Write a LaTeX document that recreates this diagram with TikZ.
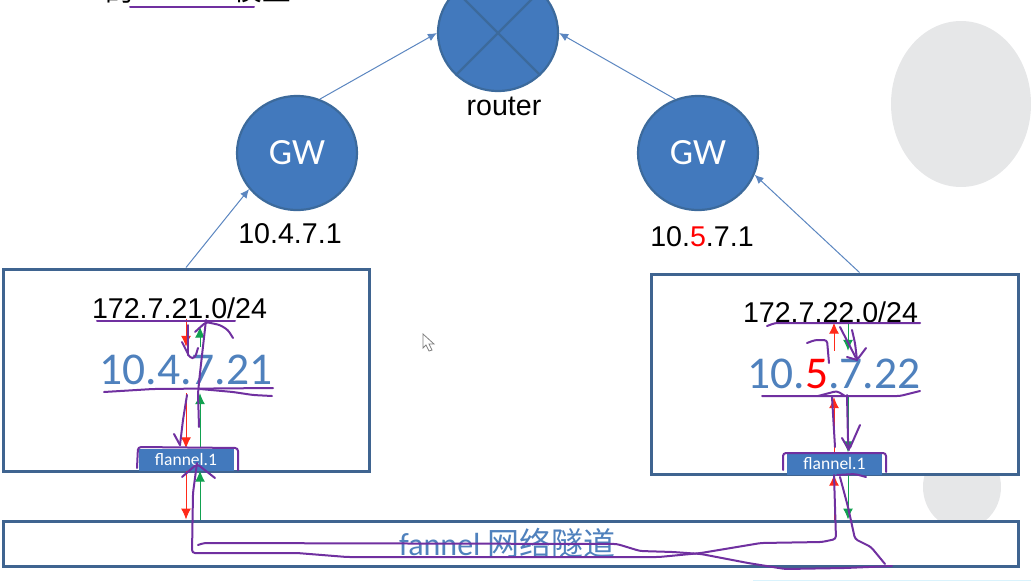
\documentclass[tikz,border=0pt]{standalone}
\usepackage{fontspec}
\usepackage{xcolor}
\usepackage{tikz}
\usetikzlibrary{shapes.geometric,arrows.meta}
\setmainfont{Liberation Sans}
\newfontfamily\carlito{Carlito}
\newfontfamily\cjk{Noto Sans CJK SC}
\definecolor{nodeblue}{HTML}{4279BD}
\definecolor{edgeblue}{HTML}{3C6A9C}
\definecolor{boxblue}{HTML}{3F6490}
\definecolor{textblue}{HTML}{4F81BD}
\definecolor{arrowblue}{HTML}{5B86C0}
\definecolor{ink}{HTML}{7030A0}
\definecolor{pale}{HTML}{E6E7E8}
\definecolor{tipred}{HTML}{FF2A1A}
\definecolor{tipgreen}{HTML}{12A150}
\tikzset{
  roundnode/.style={ellipse,draw=edgeblue,fill=nodeblue,line width=2.2pt,inner sep=0pt,
    minimum width=120pt,minimum height=114pt,text=white,font=\carlito\fontsize{37}{37}\selectfont},
  hostbox/.style={rectangle,draw=boxblue,fill=white,line width=3pt,inner sep=0pt},
  subnetlabel/.style={inner sep=0pt,font=\fontsize{28.6}{28.6}\selectfont},
  hostlabel/.style={inner sep=0pt,minimum height=46pt,text=textblue,font=\carlito\fontsize{45.5}{45.5}\selectfont},
  flannelbox/.style={rectangle,fill=nodeblue,text=white,inner sep=0pt,minimum width=95pt,minimum height=22pt,
    font=\carlito\fontsize{17.5}{17.5}\selectfont},
  bluearrow/.style={draw=arrowblue,line width=1pt,-{Latex[length=9pt,width=8pt]}},
  redarrow/.style={draw=tipred,line width=1pt,-{Latex[length=11pt,width=10pt]}},
  greenarrow/.style={draw=tipgreen,line width=1pt,-{Latex[length=11pt,width=10pt]}},
  inkline/.style={draw=ink,line width=2pt,line cap=round,line join=round,rounded corners=3pt},
}
\begin{document}
\begin{tikzpicture}[x=1pt,y=-1pt]
  \useasboundingbox (0,0) rectangle (1031,581);
  % grey shapes behind
  \fill[pale] (961,104) ellipse (70 and 83);
  \fill[pale] (962,487) ellipse (39 and 42);
  \draw[color=cyan!15,line width=1pt] (753,580) -- (1031,580);

  % title, cut off at the top
  \node[subnetlabel] (titlede) at (120,-10) {\cjk 的};
  \node[subnetlabel] (titlemodel) at (262,-10) {\cjk 模型};

  % round nodes
  \node[roundnode,minimum height=116pt] (router) at (498,33) {};
  \draw[draw=edgeblue,line width=2.4pt] (router.45) -- (router.225);
  \draw[draw=edgeblue,line width=2.4pt] (router.135) -- (router.315);
  \node[roundnode] (gwl) at (297,153) {GW};
  \node[roundnode] (gwr) at (698,153) {GW};
  \node[subnetlabel] (routerlabel) at (504,106) {router};
  \node[subnetlabel] (gwlabell) at (290,234) {10.4.7.1};
  \node[subnetlabel] (gwlabelr) at (702,237) {10.{\color{red}5}.7.1};

  % boxes
  \node[hostbox,minimum width=366pt,minimum height=202pt] (boxl) at (186,370) {};
  \node[hostbox,minimum width=367pt,minimum height=200pt] (boxr) at (834.5,374) {};
  \node[hostbox,minimum width=1015pt,minimum height=45pt] (tunnel) at (510.5,543.5) {};
  \node[inner sep=0pt,text=textblue,font=\fontsize{32}{32}\selectfont] (tunnellabel) at (507.5,543) {\carlito fannel \cjk 网络隧道};

  \node[subnetlabel] (subnetl) at (179.5,308) {172.7.21.0/24};
  \node[subnetlabel] (subnetr) at (830.5,312) {172.7.22.0/24};
  \node[hostlabel] (hostl) at (186,370) {10.4.7.21};
  \node[hostlabel] (hostr) at (834,374) {10.{\color{red}5}.7.22};
  \node[flannelbox] (flannell) at (186,459.5) {flannel.1};
  \node[flannelbox] (flannelr) at (834.5,463.5) {flannel.1};

  % blue arrows
  \draw[bluearrow] (gwl.67) -- (router.180);
  \draw[bluearrow] (gwr.113) -- (router.0);
  \draw[bluearrow] (boxl.north) -- (gwl.217);
  \draw[bluearrow] ([xshift=25pt]boxr.north) -- (gwr.339);

  % red and green arrows
  \coordinate (redl) at (186,0);
  \coordinate (greenl) at (200,0);
  \coordinate (redr) at (834,0);
  \coordinate (greenr) at (848,0);
  \draw[redarrow] (redl |- subnetl.south) -- (redl |- hostl.north);
  \draw[greenarrow,shorten >=8pt] (greenl |- hostl.north) -- (greenl |- subnetl.south);
  \draw[redarrow] (redl |- hostl.south) -- (redl |- flannell.north);
  \draw[greenarrow] (greenl |- flannell.north) -- (greenl |- hostl.south);
  \draw[redarrow] (redl |- flannell.south) -- (redl |- tunnel.north);
  \draw[greenarrow] (greenl |- tunnel.north) -- (greenl |- flannell.south);
  \draw[redarrow] (redr |- hostr.north) -- (redr |- subnetr.south);
  \draw[greenarrow] (greenr |- subnetr.south) -- (greenr |- hostr.north);
  \draw[redarrow] (redr |- flannelr.north) -- (redr |- hostr.south);
  \draw[greenarrow] (greenr |- hostr.south) -- (greenr |- flannelr.north);
  \draw[redarrow] (redr |- tunnel.north) -- (redr |- flannelr.south);
  \draw[greenarrow] (greenr |- flannelr.south) -- (greenr |- tunnel.north);

  % mouse pointer
  \draw[gray,fill=white,line width=0.8pt] (423,334) -- (423,348) -- (426,345) -- (429,351) -- (432,350) -- (429,344) -- (434,344) -- cycle;

  % purple pen strokes
  \draw[inkline] (130,6.5) -- (254,6.5);
  % left box
  \draw[inkline] (97,321) -- (235,321);
  \draw[inkline] (104,392) -- (153,389) -- (273,388);
  \draw[inkline] (200,389) -- (233,392) -- (253,395) -- (272,396);
  \draw[inkline] (188,325) -- (188,355);
  \draw[inkline] (182,342) -- (190,358) -- (195,358) -- (198,348);
  \draw[inkline] (199,427) -- (198,393) -- (200,373) -- (206,320);
  \draw[inkline] (195,332) -- (206,322) -- (220,325) -- (228,330) -- (233,338);
  \draw[inkline] (187,395) -- (183,420) -- (180,445);
  \draw[inkline] (174,434) -- (180,445);
  \draw[inkline] (137,468) -- (138,447) -- (238,448) -- (238,470);
  \draw[inkline] (182,477) -- (197,464) -- (215,478);
  % right box
  \draw[inkline] (767,326) -- (775,323) -- (920,323);
  \draw[inkline] (762,396) -- (900,396) -- (920,391);
  \draw[inkline] (807,343) -- (815,340) -- (827,340) -- (829,363);
  \draw[inkline] (840,327) -- (857,360) -- (866,348);
  \draw[inkline] (847,357) -- (857,360);
  \draw[inkline] (852,330) -- (855,343) -- (857,360);
  \draw[inkline] (818,396) -- (837,391) -- (845,396);
  \draw[inkline] (832,397) -- (835,447);
  \draw[inkline] (847,395) -- (848,440) -- (849,450) -- (860,425);
  \draw[inkline] (842,438) -- (849,450);
  \draw[inkline] (783,470) -- (783,453) -- (886,453) -- (886,472);
  \draw[inkline] (837,475) -- (855,474) -- (866,477);
  % along the tunnel
  \draw[inkline] (197,463) -- (193,493) -- (192,553) -- (297,553) -- (347,557) -- (659,557) -- (701,553) -- (761,543) -- (822,542) -- (836,539) -- (834,475);
  \draw[inkline] (198,545) -- (204,543) -- (617,544) -- (640,551) -- (673,552) -- (701,554) -- (748,563) -- (785,569) -- (845,568) -- (892,566);
  \draw[inkline] (885,564) -- (871,547) -- (855,539) -- (848,507) -- (840,477);
\end{tikzpicture}
\end{document}
